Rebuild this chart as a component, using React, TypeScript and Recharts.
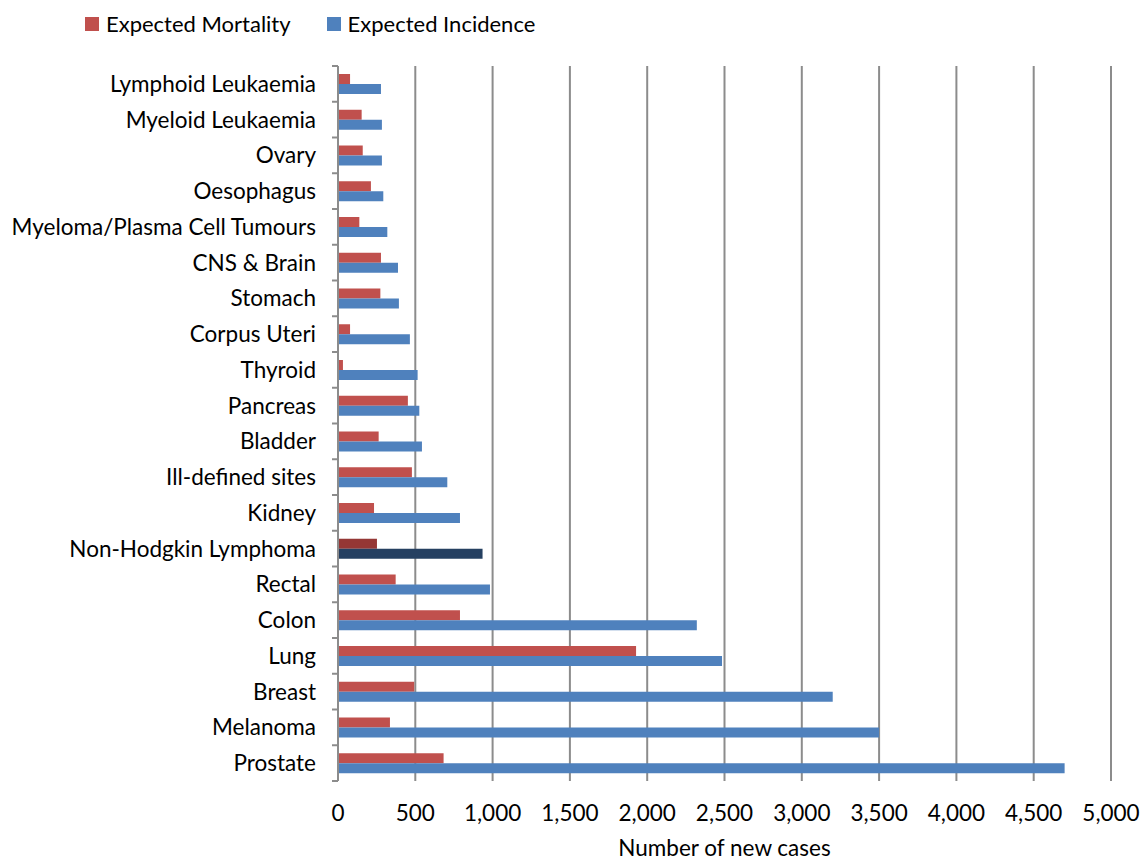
import { BarChart, Bar, XAxis, YAxis, CartesianGrid, Cell } from 'recharts';

const categories = [
  'Lymphoid Leukaemia',
  'Myeloid Leukaemia',
  'Ovary',
  'Oesophagus',
  'Myeloma/Plasma Cell Tumours',
  'CNS & Brain',
  'Stomach',
  'Corpus Uteri',
  'Thyroid',
  'Pancreas',
  'Bladder',
  'Ill-defined sites',
  'Kidney',
  'Non-Hodgkin Lymphoma',
  'Rectal',
  'Colon',
  'Lung',
  'Breast',
  'Melanoma',
  'Prostate',
];

const mortality = [78, 153, 160, 213, 138, 278, 274, 78, 32, 452, 263, 478, 233, 252, 373, 789, 1928, 493, 336, 683];
const incidence = [278, 284, 284, 293, 319, 388, 394, 465, 515, 526, 543, 707, 789, 935, 983, 2321, 2484, 3200, 3500, 4700];

const xTicks = [0, 500, 1000, 1500, 2000, 2500, 3000, 3500, 4000, 4500, 5000];

const highlight = 'Non-Hodgkin Lymphoma';

const RED = '#C0504D';
const BLUE = '#4F81BD';
const DARK_RED = '#953735';
const DARK_BLUE = '#254061';
const GRID = '#8c8c8c';
const FONT = 'Lato, "Open Sans", sans-serif';
const AXIS_FONT = 22.5;

const data = categories.map((name, i) => ({
  name,
  mortality: mortality[i],
  incidence: incidence[i],
}));

const WIDTH = 1146;
const HEIGHT = 861;
const MARGIN = { top: 66, right: 35, bottom: 30, left: 0 };
const Y_WIDTH = 338;
const X_HEIGHT = 50;
const BAND = (HEIGHT - MARGIN.top - MARGIN.bottom - X_HEIGHT) / categories.length;

function CategoryTick(props: any) {
  const { x, y, payload, index } = props;
  const axisX = x + 22;
  const last = index === categories.length - 1;
  return (
    <g>
      <line x1={axisX - 6} x2={axisX} y1={y - BAND / 2} y2={y - BAND / 2} stroke={GRID} strokeWidth={2} />
      {last && (
        <line x1={axisX - 6} x2={axisX} y1={y + BAND / 2} y2={y + BAND / 2} stroke={GRID} strokeWidth={2} />
      )}
      <text x={x} y={y} dy="0.36em" textAnchor="end" fill="#000" fontSize={AXIS_FONT} fontFamily={FONT}>
        {payload.value}
      </text>
    </g>
  );
}

function Swatch({ color, label, gap }: { color: string; label: string; gap: number }) {
  return (
    <span style={{ display: 'inline-flex', alignItems: 'center', marginRight: gap }}>
      <span style={{ width: 14, height: 14, background: color, display: 'inline-block', marginRight: 7 }} />
      <span>{label}</span>
    </span>
  );
}

export default function App() {
  return (
    <div style={{ position: 'absolute', left: 0, top: 0, width: WIDTH, height: HEIGHT, background: '#fff' }}>
      <div
        style={{
          position: 'absolute',
          left: 85,
          top: 10,
          fontFamily: FONT,
          fontSize: 22,
          color: '#000',
          display: 'flex',
          lineHeight: '28px',
        }}
      >
        <Swatch color={RED} label="Expected Mortality" gap={36} />
        <Swatch color={BLUE} label="Expected Incidence" gap={0} />
      </div>
      <BarChart
        width={WIDTH}
        height={HEIGHT}
        data={data}
        layout="vertical"
        margin={MARGIN}
        barGap={0}
        barSize={10}
      >
        <CartesianGrid horizontal={false} stroke={GRID} strokeWidth={2} />
        <XAxis
          type="number"
          domain={[0, 5000]}
          ticks={xTicks}
          interval={0}
          height={X_HEIGHT}
          axisLine={false}
          tickLine={false}
          tickSize={0}
          tickMargin={24}
          tickFormatter={(v: number) => v.toLocaleString('en-US')}
          tick={{ fill: '#000', fontSize: AXIS_FONT, fontFamily: FONT }}
          label={{
            value: 'Number of new cases',
            position: 'bottom',
            offset: 9,
            fill: '#000',
            fontSize: AXIS_FONT,
            fontFamily: FONT,
          }}
        />
        <YAxis
          type="category"
          dataKey="name"
          width={Y_WIDTH}
          interval={0}
          axisLine={{ stroke: GRID, strokeWidth: 2 }}
          tickLine={false}
          tickSize={6}
          tickMargin={16}
          tick={<CategoryTick />}
        />
        <Bar dataKey="mortality" name="Expected Mortality" fill={RED} isAnimationActive={false}>
          {data.map((d) => (
            <Cell key={d.name} fill={d.name === highlight ? DARK_RED : RED} />
          ))}
        </Bar>
        <Bar dataKey="incidence" name="Expected Incidence" fill={BLUE} isAnimationActive={false}>
          {data.map((d) => (
            <Cell key={d.name} fill={d.name === highlight ? DARK_BLUE : BLUE} />
          ))}
        </Bar>
      </BarChart>
    </div>
  );
}
